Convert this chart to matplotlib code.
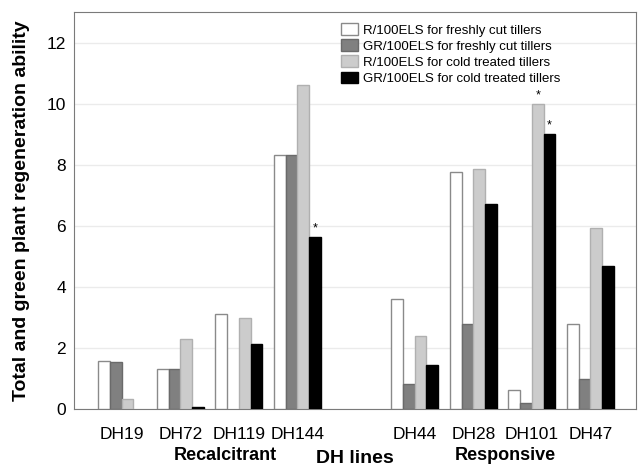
import matplotlib.pyplot as plt
import numpy as np

lines = ["DH19", "DH72", "DH119", "DH144", "DH44", "DH28", "DH101", "DH47"]
positions = [0, 1, 2, 3, 5, 6, 7, 8]

r_fresh = [1.57, 1.32, 3.13, 8.33, 3.62, 7.75, 0.64, 2.78]
gr_fresh = [1.56, 1.31, 0.0, 8.31, 0.84, 2.80, 0.19, 1.00]
r_cold = [0.35, 2.31, 2.99, 10.6, 2.39, 7.87, 9.98, 5.93]
gr_cold = [0.0, 0.08, 2.12, 5.63, 1.44, 6.73, 9.02, 4.68]

# (series index, line index) of bars marked with an asterisk
starred = [(3, 3), (2, 6), (3, 6)]

series = [
    ("R/100ELS for freshly cut tillers", r_fresh, "white", "#8a8a8a"),
    ("GR/100ELS for freshly cut tillers", gr_fresh, "#808080", "#6a6a6a"),
    ("R/100ELS for cold treated tillers", r_cold, "#cccccc", "#b0b0b0"),
    ("GR/100ELS for cold treated tillers", gr_cold, "black", "black"),
]

plt.rcParams["font.family"] = ["Liberation Sans", "DejaVu Sans"]

fig = plt.figure(figsize=(6.4, 4.65), dpi=100)
ax = fig.add_axes([0.116, 0.120, 0.878, 0.854])

width = 0.2
x = np.array(positions, dtype=float)
for k, (label, vals, fc, ec) in enumerate(series):
    offs = x + (k - 1.5) * width
    heights = np.array(vals)
    mask = heights > 0
    ax.bar(offs[mask], heights[mask], width, color=fc, edgecolor=ec, linewidth=1.0,
           label=label, zorder=3)
    for s, i in starred:
        if s == k:
            ax.text(offs[i], vals[i] + 0.08, "*", ha="center", va="bottom", fontsize=9, zorder=4)

ax.set_xlim(-0.81, 8.78)
ax.set_ylim(0, 13)
ax.set_yticks(range(0, 13, 2))
ax.set_xticks(positions)
ax.set_xticklabels(lines)
ax.tick_params(axis="y", length=0, labelsize=12.5, pad=6)
ax.tick_params(axis="x", length=0, labelsize=12.5, pad=13)
ax.yaxis.grid(True, color="#ebebeb", linewidth=1, zorder=0)
for sp in ax.spines.values():
    sp.set_color("#7a7a7a")

ax.set_ylabel("Total and green plant regeneration ability", fontsize=14,
              fontweight="bold", labelpad=12)

fig.text(225 / 640, 1 - 455 / 465, "Recalcitrant", ha="center", va="center",
         fontsize=13, fontweight="bold")
fig.text(355 / 640, 1 - 458 / 465, "DH lines", ha="center", va="center",
         fontsize=14, fontweight="bold")
fig.text(505 / 640, 1 - 455 / 465, "Responsive", ha="center", va="center",
         fontsize=13, fontweight="bold")

ax.legend(loc="upper left", bbox_to_anchor=(0.465, 0.985), frameon=False, fontsize=9.5,
          handlelength=1.3, handleheight=1.0, handletextpad=0.4, labelspacing=0.2,
          borderaxespad=0)

fig.savefig("out.png", dpi=100)
